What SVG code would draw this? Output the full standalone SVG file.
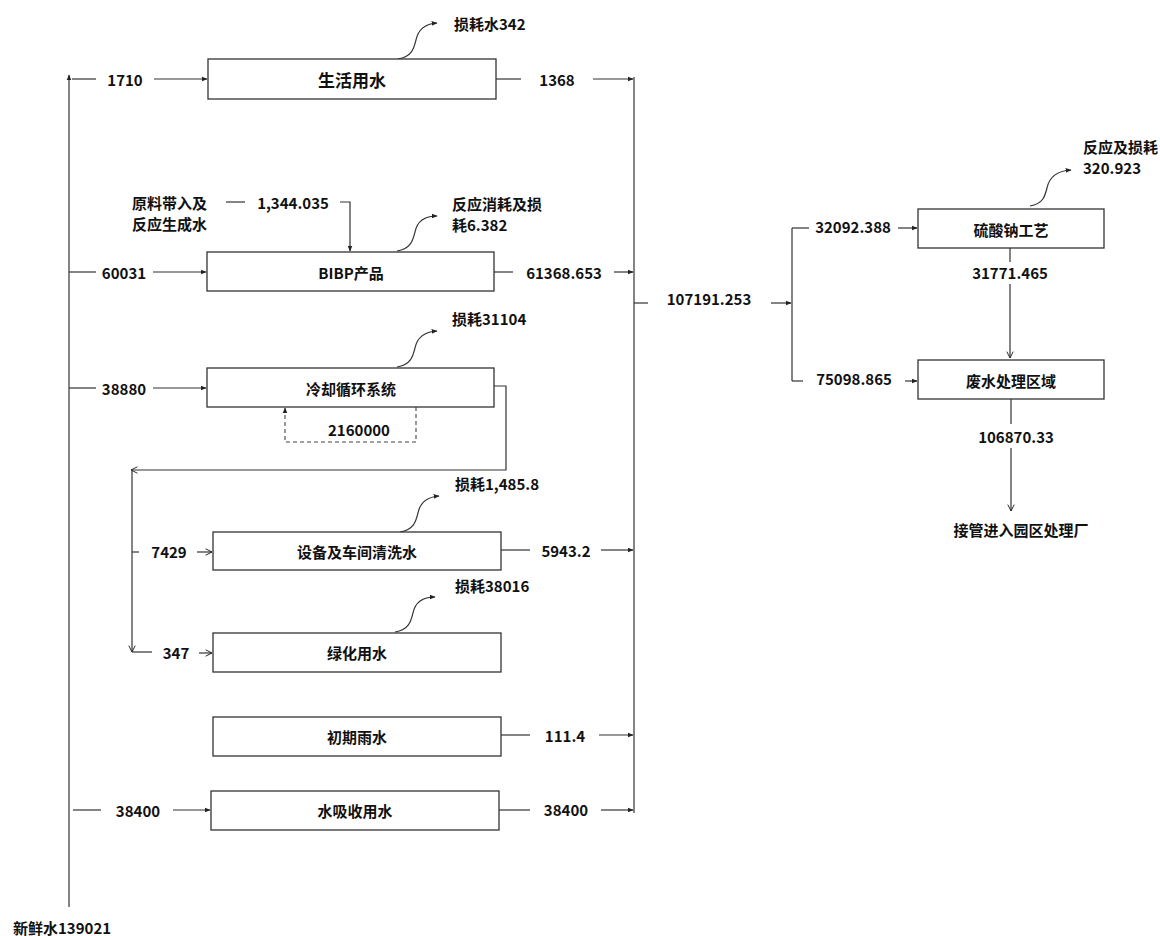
<svg xmlns="http://www.w3.org/2000/svg" width="1160" height="936" viewBox="0 0 1160 936">
<defs>
<marker id="ah" viewBox="0 0 10 10" refX="9" refY="5" markerWidth="6" markerHeight="6" orient="auto" markerUnits="userSpaceOnUse"><path d="M0,1 L10,5 L0,9 z" fill="#222"/></marker>
<marker id="ao" viewBox="0 0 10 10" refX="9" refY="5" markerWidth="8" markerHeight="8" orient="auto" markerUnits="userSpaceOnUse"><path d="M1,1 L9,5 L1,9" fill="none" stroke="#222" stroke-width="1.2"/></marker>
<style>
.box{fill:#fff;stroke:#333;stroke-width:1.3}
.ln{fill:none;stroke:#333;stroke-width:1.2}
.dash{fill:none;stroke:#444;stroke-width:1.1;stroke-dasharray:4,3}
text{font-family:"Noto Sans CJK SC","Noto Sans",sans-serif;font-weight:700;font-size:15px;fill:#111;dominant-baseline:central}
.c{text-anchor:middle}
.big{font-size:17px}
</style>
</defs>
<rect width="1160" height="936" fill="#fff"/>

<g id="connectors">
<!-- left trunk -->
<line class="ln" x1="69" y1="907" x2="69" y2="75" marker-end="url(#ah)"/>
<!-- right trunk -->
<line class="ln" x1="634" y1="77" x2="634" y2="813"/>
<!-- row 生活用水 -->
<line class="ln" x1="72" y1="79" x2="96" y2="79"/>
<line class="ln" x1="154" y1="79" x2="207" y2="79" marker-end="url(#ah)"/>
<line class="ln" x1="496" y1="79" x2="521" y2="79"/>
<line class="ln" x1="593" y1="79" x2="633" y2="79" marker-end="url(#ah)"/>
<path class="ln" d="M398,59 C412,57 414,48 416,40 C418,30 424,24 437,23" marker-end="url(#ah)"/>
<!-- row BIBP -->
<line class="ln" x1="69" y1="272" x2="96" y2="272"/>
<line class="ln" x1="153" y1="272" x2="206" y2="272" marker-end="url(#ah)"/>
<line class="ln" x1="494" y1="272" x2="513" y2="272"/>
<line class="ln" x1="614" y1="272" x2="633" y2="272" marker-end="url(#ah)"/>
<line class="ln" x1="226" y1="202" x2="245" y2="202"/>
<polyline class="ln" points="340,202 350,202 350,251" marker-end="url(#ah)"/>
<path class="ln" d="M397,251 C411,249 413,240 415,232 C417,222 423,216 437,216" marker-end="url(#ah)"/>
<!-- row cooling -->
<line class="ln" x1="69" y1="388" x2="96" y2="388"/>
<line class="ln" x1="153" y1="388" x2="206" y2="388" marker-end="url(#ah)"/>
<path class="ln" d="M397,367 C411,365 413,356 415,348 C417,338 423,332 437,331" marker-end="url(#ah)"/>
<polyline class="dash" points="416,407 416,442 285,442 285,408" marker-end="url(#ah)"/>
<polyline class="ln" points="494,386 506,386 506,470 131,470" marker-end="url(#ao)"/>
<line class="ln" x1="132" y1="470" x2="132" y2="652" marker-end="url(#ao)"/>
<line class="ln" x1="132" y1="652" x2="152" y2="652"/>
<line class="ln" x1="132" y1="552" x2="139" y2="552"/>
<!-- row 设备 -->
<line class="ln" x1="197" y1="552" x2="212" y2="552" marker-end="url(#ao)"/>
<line class="ln" x1="501" y1="550" x2="530" y2="550"/>
<line class="ln" x1="601" y1="550" x2="633" y2="550" marker-end="url(#ah)"/>
<path class="ln" d="M400,532 C414,530 416,521 418,513 C420,503 426,497 439,496" marker-end="url(#ah)"/>
<!-- row 绿化 -->
<line class="ln" x1="199" y1="653" x2="212" y2="653" marker-end="url(#ao)"/>
<path class="ln" d="M395,632 C409,630 411,621 413,613 C415,603 421,597 435,597" marker-end="url(#ah)"/>
<!-- row 初期雨水 -->
<line class="ln" x1="501" y1="735" x2="530" y2="735"/>
<line class="ln" x1="599" y1="735" x2="633" y2="735" marker-end="url(#ah)"/>
<!-- row 水吸收 -->
<line class="ln" x1="73" y1="810" x2="101" y2="810"/>
<line class="ln" x1="173" y1="810" x2="210" y2="810" marker-end="url(#ah)"/>
<line class="ln" x1="499" y1="810" x2="530" y2="810"/>
<line class="ln" x1="601" y1="810" x2="633" y2="810" marker-end="url(#ah)"/>
<!-- right side -->
<line class="ln" x1="634" y1="303" x2="648" y2="303"/>
<line class="ln" x1="771" y1="303" x2="791" y2="303" marker-end="url(#ah)"/>
<line class="ln" x1="792" y1="228" x2="792" y2="381"/>
<line class="ln" x1="792" y1="228" x2="809" y2="228"/>
<line class="ln" x1="898" y1="228" x2="917" y2="228" marker-end="url(#ah)"/>
<line class="ln" x1="792" y1="381" x2="803" y2="381"/>
<line class="ln" x1="905" y1="381" x2="917" y2="381" marker-end="url(#ah)"/>
<line class="ln" x1="1010" y1="248" x2="1010" y2="262"/>
<line class="ln" x1="1010" y1="284" x2="1010" y2="358" marker-end="url(#ao)"/>
<line class="ln" x1="1011" y1="399" x2="1011" y2="424"/>
<line class="ln" x1="1011" y1="448" x2="1011" y2="511" marker-end="url(#ao)"/>
<path class="ln" d="M1030,206 C1043,204 1045,196 1047,188 C1049,178 1056,171 1071,170" marker-end="url(#ah)"/>
</g>

<g id="n-shenghuo"><rect class="box" x="208" y="59" width="288" height="40"/><text class="c big" x="352" y="79">生活用水</text></g>
<g id="n-bibp"><rect class="box" x="207" y="252" width="287" height="39"/><text class="c" x="351" y="272">BIBP产品</text></g>
<g id="n-lengque"><rect class="box" x="207" y="368" width="287" height="39"/><text class="c" x="351" y="388">冷却循环系统</text></g>
<g id="n-shebei"><rect class="box" x="213" y="532" width="288" height="38"/><text class="c" x="357" y="551">设备及车间清洗水</text></g>
<g id="n-lvhua"><rect class="box" x="213" y="633" width="288" height="39"/><text class="c" x="357" y="652">绿化用水</text></g>
<g id="n-chuqi"><rect class="box" x="213" y="717" width="288" height="39"/><text class="c" x="357" y="736">初期雨水</text></g>
<g id="n-xishou"><rect class="box" x="211" y="791" width="288" height="39"/><text class="c" x="355" y="810">水吸收用水</text></g>
<g id="n-liusuan"><rect class="box" x="918" y="209" width="186" height="39"/><text class="c" x="1011" y="229">硫酸钠工艺</text></g>
<g id="n-feishui"><rect class="box" x="918" y="360" width="186" height="39"/><text class="c" x="1011" y="380">废水处理区域</text></g>
<g id="n-jieguan"><text class="c" x="1021" y="529">接管进入园区处理厂</text></g>
<g id="n-xinxian"><text x="13" y="927">新鲜水139021</text></g>
<g id="n-yuanliao"><text x="132" y="202">原料带入及</text><text x="132" y="223">反应生成水</text></g>

<g id="labels">
<text x="454" y="23">损耗水342</text>
<text class="c" x="125" y="79">1710</text>
<text class="c" x="557" y="79">1368</text>
<text class="c" x="293" y="202">1,344.035</text>
<text x="452" y="203">反应消耗及损</text>
<text x="452" y="224">耗6.382</text>
<text class="c" x="124" y="272">60031</text>
<text class="c" x="564" y="272">61368.653</text>
<text x="452" y="318">损耗31104</text>
<text class="c" x="124" y="388">38880</text>
<text class="c" x="359" y="429">2160000</text>
<text x="455" y="483">损耗1,485.8</text>
<text class="c" x="169" y="551">7429</text>
<text class="c" x="566" y="550">5943.2</text>
<text x="455" y="585">损耗38016</text>
<text class="c" x="176" y="652">347</text>
<text class="c" x="565" y="735">111.4</text>
<text class="c" x="138" y="810">38400</text>
<text class="c" x="566" y="809">38400</text>
<text class="c" x="709" y="298">107191.253</text>
<text class="c" x="853" y="226">32092.388</text>
<text class="c" x="854" y="378">75098.865</text>
<text class="c" x="1010" y="272">31771.465</text>
<text class="c" x="1016" y="436">106870.33</text>
<text x="1083" y="146">反应及损耗</text>
<text x="1083" y="167">320.923</text>
</g>
</svg>
